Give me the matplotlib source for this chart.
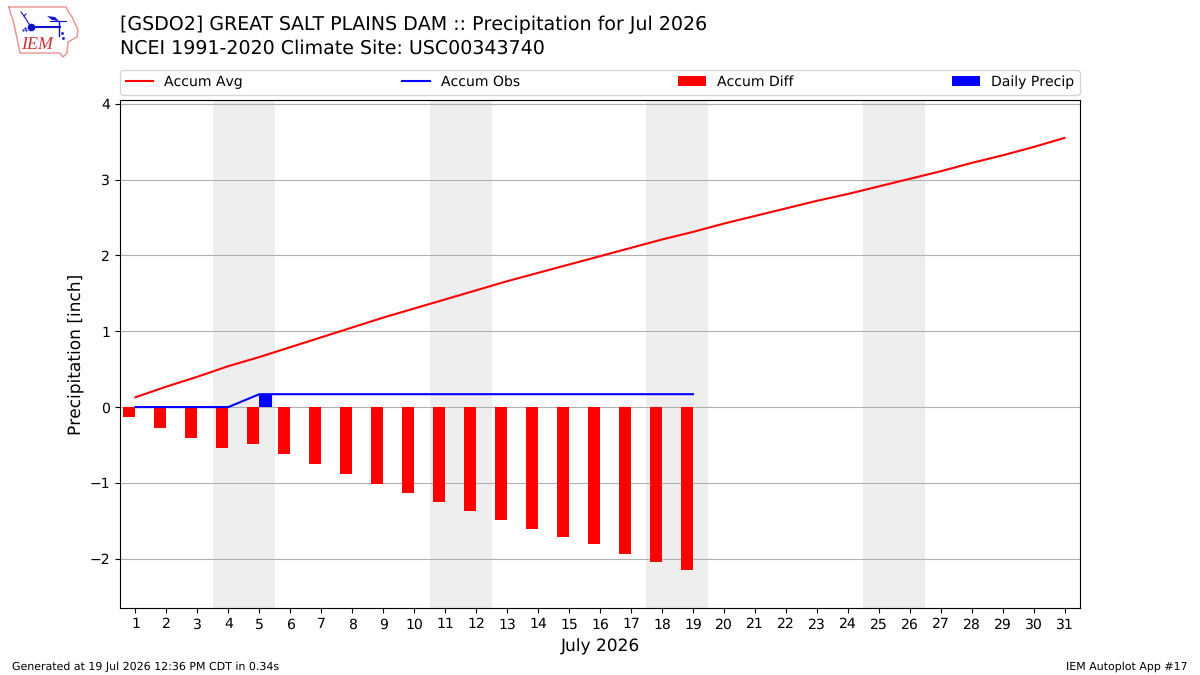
#!/usr/bin/env python
"""Daily precipitation accumulation for GSDO2, July 2026."""

import matplotlib

matplotlib.use("Agg")
import matplotlib.pyplot as plt

plt.rcParams["text.hinting"] = "no_hinting"
plt.rcParams["text.hinting_factor"] = 1

days = list(range(1, 32))
obs_days = list(range(1, 20))
accum_avg = [
    0.13, 0.27, 0.40, 0.54, 0.66, 0.79, 0.92, 1.05, 1.18, 1.30, 1.42,
    1.54, 1.66, 1.77, 1.88, 1.99, 2.10, 2.21, 2.31, 2.42, 2.52, 2.62,
    2.72, 2.81, 2.91, 3.01, 3.11, 3.22, 3.32, 3.43, 3.55,
]
accum_obs = [
    0.0, 0.0, 0.0, 0.0, 0.17, 0.17, 0.17, 0.17, 0.17, 0.17,
    0.17, 0.17, 0.17, 0.17, 0.17, 0.17, 0.17, 0.17, 0.17,
]
accum_diff = [
    -0.13, -0.27, -0.41, -0.54, -0.49, -0.62, -0.75, -0.88, -1.01, -1.13,
    -1.25, -1.37, -1.49, -1.61, -1.72, -1.81, -1.94, -2.04, -2.15,
]
daily_precip = [
    0.0, 0.0, 0.0, 0.0, 0.17, 0.0, 0.0, 0.0, 0.0, 0.0,
    0.0, 0.0, 0.0, 0.0, 0.0, 0.0, 0.0, 0.0, 0.0,
]
weekends = [(3.5, 5.5), (10.5, 12.5), (17.5, 19.5), (24.5, 26.5)]

# logo shapes, in pixel coordinates of the logo corner
iowa_x = [9, 66, 69, 72, 78, 77, 68, 67, 63, 60, 20, 17, 13, 11, 9]
iowa_y = [7, 7, 13, 17, 30, 37, 42, 53, 57, 53, 53, 38, 20, 15, 7]
flag_x = [47, 55, 59, 52]
flag_y = [16, 17, 21, 20]


def draw_logo(fig):
    """Draw the small IEM logo in the top left corner."""
    lax = fig.add_axes([0, 1 - 60 / 675, 90 / 1200, 60 / 675])
    lax.set_xlim(0, 90)
    lax.set_ylim(60, 0)
    lax.axis("off")
    blue = "#1111cc"
    lax.plot(iowa_x, iowa_y, color="#ea8f8f", lw=1.0)
    lax.plot([31, 60], [27, 27], color=blue, lw=1.5)
    lax.plot([31], [26.5], "o", color=blue, ms=4.5)
    lax.plot([31, 24], [27, 16], color=blue, lw=0.8)
    lax.plot([21, 24, 26], [12, 16, 14], color=blue, lw=0.8)
    lax.fill(flag_x, flag_y, color=blue, lw=0)
    lax.plot([50, 66], [21, 21], color=blue, lw=0.8)
    lax.plot([59, 59], [21, 36], color=blue, lw=1.0)
    lax.plot([62, 63], [33, 38], ".", color=blue, ms=2)
    lax.plot([23, 25, 26], [30, 28, 30], ".", color=blue, ms=1.2)
    lax.text(
        21, 45, "IEM", color="#cc3333", fontsize=13, style="italic",
        family="Liberation Serif", ha="left", va="center",
    )


def main() -> None:
    fig = plt.figure(figsize=(12, 6.75), dpi=100)
    ax = fig.add_axes([120 / 1200, 1 - 608 / 675, 960 / 1200, 508 / 675])

    for start, end in weekends:
        ax.axvspan(start, end, color="#eeeeee", lw=0, zorder=0)

    ax.plot(days, accum_avg, color="red", lw=1.5, label="Accum Avg", zorder=3)
    ax.plot(obs_days, accum_obs, color="blue", lw=1.5, label="Accum Obs", zorder=3)
    ax.bar(
        obs_days, accum_diff, width=-0.4, align="edge", color="red",
        label="Accum Diff", zorder=2,
    )
    ax.bar(
        obs_days, daily_precip, width=0.4, align="edge", color="blue",
        label="Daily Precip", zorder=2,
    )

    ax.set_xlim(0.5, 31.5)
    ax.set_ylim(-2.65, 4.05)
    ax.set_xticks(days)
    ax.set_yticks(range(-2, 5))
    ax.tick_params(labelsize=10)
    ax.grid(axis="y", color="#b0b0b0", lw=0.8, zorder=1)
    ax.set_axisbelow(True)
    ax.set_xlabel("July 2026", fontsize=12, labelpad=5)
    ax.set_ylabel("Precipitation [inch]", fontsize=12, labelpad=3)

    ax.legend(
        loc="lower left", bbox_to_anchor=(0, 1.0105, 1, 0.05), ncol=4,
        mode="expand", borderaxespad=0, fontsize=10,
    )

    # two title lines placed separately, the spacing is wider than the default
    fig.text(
        120 / 1200, 1 - 25 / 675,
        "[GSDO2] GREAT SALT PLAINS DAM :: Precipitation for Jul 2026",
        fontsize=14, va="center", ha="left",
    )
    fig.text(
        120 / 1200, 1 - 48 / 675,
        "NCEI 1991-2020 Climate Site: USC00343740",
        fontsize=14, va="center", ha="left",
    )
    fig.text(12 / 1200, 1 - 669.5 / 675,
             "Generated at 19 Jul 2026 12:36 PM CDT in 0.34s", fontsize=8)
    fig.text(1188 / 1200, 1 - 669.5 / 675, "IEM Autoplot App #17",
             fontsize=8, ha="right")

    draw_logo(fig)
    fig.savefig("out.png", dpi=100)
    plt.close(fig)


if __name__ == "__main__":
    main()
